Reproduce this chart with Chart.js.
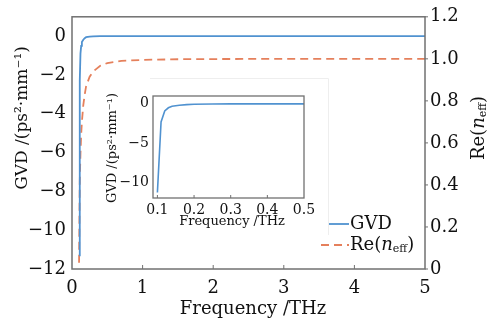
<!DOCTYPE html>
<html>
<head>
<meta charset="utf-8">
<script src="https://cdn.jsdelivr.net/npm/chart.js@4"></script>
<style>
  html, body { margin: 0; padding: 0; background: #fff; }
  #wrap { position: relative; width: 504px; height: 323px; }
  #mainChart { position: absolute; left: 0; top: 0; }
  #insetChart { position: absolute; left: 100px; top: 78px; }
</style>
</head>
<body>
<div id="wrap">
  <canvas id="mainChart" width="504" height="323"></canvas>
  <canvas id="insetChart" width="235" height="157"></canvas>
</div>
<script>
// data
const frequency = [0.1, 0.11, 0.12, 0.13, 0.14, 0.16, 0.18, 0.2, 0.25, 0.3, 0.4, 0.5, 0.7, 1, 1.5, 2, 3, 4, 5];
const gvdValues = [-11.3, -2.3, -0.9, -0.5, -0.3, -0.18, -0.1, -0.05, -0.02, -0.01, 0, 0, 0, 0, 0, 0, 0, 0, 0];
const neffValues = [0.03, 0.42, 0.55, 0.64, 0.7, 0.78, 0.83, 0.87, 0.915, 0.94, 0.967, 0.98, 0.99, 0.995, 0.998, 0.999, 1, 1, 1];

const xTicks = [0, 1, 2, 3, 4, 5];
const gvdTicks = [-12, -10, -8, -6, -4, -2, 0];
const gvdTickLabels = ["\u221212", "\u221210", "\u22128", "\u22126", "\u22124", "\u22122", "0"];
const neffTicks = [0, 0.2, 0.4, 0.6, 0.8, 1.0, 1.2];
const neffTickLabels = ["0", "0.2", "0.4", "0.6", "0.8", "1.0", "1.2"];

const insetXTicks = [0.1, 0.2, 0.3, 0.4, 0.5];
const insetYTicks = [-10, -5, 0];
const insetYTickLabels = ["\u221210", "\u22125", "0"];

const BLUE = "#5092d0";
const RED = "#e5805c";
const FRAME = "#707070";
const TEXT = "#111";
const SERIF = "'DejaVu Serif', serif";

function toPoints(xs, ys) {
  return xs.map((x, i) => ({ x: x, y: ys[i] }));
}

function setTicks(values) {
  return (axis) => { axis.ticks = values.map((v) => ({ value: v })); };
}

// draw text made of pieces (normal, italic, subscript)
function richWidth(ctx, parts) {
  let w = 0;
  parts.forEach((p) => { ctx.font = p.font; w += ctx.measureText(p.text).width; });
  return w;
}
function drawRich(ctx, parts, x, y) {
  let cx = x;
  parts.forEach((p) => {
    ctx.font = p.font;
    ctx.fillText(p.text, cx, y + (p.dy || 0));
    cx += ctx.measureText(p.text).width;
  });
}
function neffParts(size) {
  return [
    { text: "Re(", font: size + "px " + SERIF },
    { text: "n", font: "italic " + size + "px " + SERIF },
    { text: "eff", font: Math.round(size * 0.6) + "px " + SERIF, dy: 4 },
    { text: ")", font: size + "px " + SERIF }
  ];
}

// frame, ticks, titles and legend of the main chart
const mainDecor = {
  id: "mainDecor",
  afterDraw(chart) {
    const ctx = chart.ctx;
    const a = chart.chartArea;
    const xs = chart.scales.x;
    const yr = chart.scales.y1;
    ctx.save();
    ctx.strokeStyle = FRAME;
    ctx.lineWidth = 1.5;
    ctx.strokeRect(a.left, a.top, a.right - a.left, a.bottom - a.top);
    ctx.lineWidth = 1;
    xTicks.slice(1, -1).forEach((v) => {
      const px = xs.getPixelForValue(v);
      ctx.beginPath(); ctx.moveTo(px, a.bottom); ctx.lineTo(px, a.bottom - 4); ctx.stroke();
    });
    neffTicks.forEach((v) => {
      const py = yr.getPixelForValue(v);
      ctx.beginPath(); ctx.moveTo(a.right, py); ctx.lineTo(a.right + 3, py); ctx.stroke();
    });

    ctx.fillStyle = TEXT;
    ctx.textBaseline = "middle";
    // x title
    ctx.font = "18px " + SERIF;
    ctx.textAlign = "center";
    ctx.fillText("Frequency /THz", 253, 309);
    // left title
    ctx.save();
    ctx.translate(23, 118);
    ctx.rotate(-Math.PI / 2);
    ctx.font = "17px " + SERIF;
    ctx.fillText("GVD /(ps\u00b2\u00b7mm\u207b\u00b9)", 0, 0);
    ctx.restore();
    // right title
    ctx.textAlign = "left";
    ctx.save();
    ctx.translate(479, 128);
    ctx.rotate(-Math.PI / 2);
    const rp = neffParts(18);
    drawRich(ctx, rp, -richWidth(ctx, rp) / 2, 0);
    ctx.restore();

    // legend
    ctx.lineWidth = 1.8;
    ctx.strokeStyle = BLUE;
    ctx.beginPath(); ctx.moveTo(321, 224); ctx.lineTo(349, 224); ctx.stroke();
    ctx.strokeStyle = RED;
    ctx.setLineDash([8, 5]);
    ctx.beginPath(); ctx.moveTo(321, 245); ctx.lineTo(349, 245); ctx.stroke();
    ctx.setLineDash([]);
    ctx.font = "18px " + SERIF;
    ctx.fillText("GVD", 350, 224);
    drawRich(ctx, neffParts(18), 350, 245);
    ctx.restore();
  }
};

new Chart(document.getElementById("mainChart"), {
  type: "scatter",
  data: {
    datasets: [
      {
        label: "GVD",
        data: toPoints(frequency, gvdValues),
        yAxisID: "y",
        showLine: true,
        borderColor: BLUE,
        borderWidth: 1.8,
        pointRadius: 0,
        tension: 0
      },
      {
        label: "Re(neff)",
        data: toPoints(frequency, neffValues),
        yAxisID: "y1",
        showLine: true,
        borderColor: RED,
        borderWidth: 1.8,
        borderDash: [8, 5],
        pointRadius: 0,
        tension: 0
      }
    ]
  },
  options: {
    responsive: false,
    animation: false,
    layout: { padding: { top: 16, left: 0, right: 0, bottom: 0 } },
    plugins: { legend: { display: false }, tooltip: { enabled: false } },
    scales: {
      x: {
        type: "linear",
        min: 0,
        max: 5,
        afterBuildTicks: setTicks(xTicks),
        afterFit: (s) => { s.height = 54; },
        grid: { display: false, drawTicks: false },
        border: { display: false },
        ticks: { color: TEXT, padding: 9, font: { family: SERIF, size: 18 }, maxRotation: 0 }
      },
      y: {
        type: "linear",
        position: "left",
        min: -12,
        max: 1,
        afterBuildTicks: setTicks(gvdTicks),
        afterFit: (s) => { s.width = 72; },
        grid: { display: false, drawTicks: false },
        border: { display: false },
        ticks: {
          color: TEXT,
          padding: 6,
          font: { family: SERIF, size: 18 },
          callback: (v) => gvdTickLabels[gvdTicks.indexOf(v)]
        }
      },
      y1: {
        type: "linear",
        position: "right",
        min: 0,
        max: 1.2,
        afterBuildTicks: setTicks(neffTicks),
        afterFit: (s) => { s.width = 79; },
        grid: { display: false, drawTicks: false },
        border: { display: false },
        ticks: {
          color: TEXT,
          padding: 5,
          font: { family: SERIF, size: 18 },
          callback: (v) => neffTickLabels[neffTicks.indexOf(v)]
        }
      }
    }
  },
  plugins: [mainDecor]
});

// inset: white panel, frame and titles
const insetDecor = {
  id: "insetDecor",
  beforeDraw(chart) {
    const ctx = chart.ctx;
    ctx.save();
    ctx.fillStyle = "#fff";
    ctx.fillRect(50, 0, 178, 157);
    ctx.strokeStyle = "#eeeeee";
    ctx.lineWidth = 1;
    ctx.beginPath(); ctx.moveTo(50, 0.5); ctx.lineTo(228.5, 0.5); ctx.lineTo(228.5, 157); ctx.stroke();
    ctx.restore();
  },
  afterDraw(chart) {
    const ctx = chart.ctx;
    const a = chart.chartArea;
    const xs = chart.scales.x;
    ctx.save();
    ctx.strokeStyle = FRAME;
    ctx.lineWidth = 1.3;
    ctx.strokeRect(a.left, a.top, a.right - a.left, a.bottom - a.top);
    ctx.lineWidth = 1;
    insetXTicks.slice(0, -1).forEach((v) => {
      const px = xs.getPixelForValue(v);
      ctx.beginPath(); ctx.moveTo(px, a.bottom); ctx.lineTo(px, a.bottom - 3); ctx.stroke();
    });
    ctx.fillStyle = TEXT;
    ctx.textAlign = "center";
    ctx.textBaseline = "middle";
    ctx.font = "13px " + SERIF;
    ctx.fillText("Frequency /THz", 132, 144);
    ctx.save();
    ctx.translate(13, 70);
    ctx.rotate(-Math.PI / 2);
    ctx.fillText("GVD /(ps\u00b2\u00b7mm\u207b\u00b9)", 0, 0);
    ctx.restore();
    ctx.restore();
  }
};

new Chart(document.getElementById("insetChart"), {
  type: "scatter",
  data: {
    datasets: [
      {
        label: "GVD",
        data: toPoints(frequency, gvdValues),
        showLine: true,
        borderColor: BLUE,
        borderWidth: 1.6,
        pointRadius: 0,
        tension: 0
      }
    ]
  },
  options: {
    responsive: false,
    animation: false,
    layout: { padding: { top: 18, right: 31, left: 0, bottom: 0 } },
    plugins: { legend: { display: false }, tooltip: { enabled: false } },
    scales: {
      x: {
        type: "linear",
        min: 0.088,
        max: 0.5,
        afterBuildTicks: setTicks(insetXTicks),
        afterFit: (s) => { s.height = 37; },
        grid: { display: false, drawTicks: false },
        border: { display: false },
        ticks: {
          color: TEXT,
          padding: 4,
          font: { family: SERIF, size: 14 },
          maxRotation: 0,
          callback: (v) => v.toFixed(1)
        }
      },
      y: {
        type: "linear",
        min: -12,
        max: 1,
        afterBuildTicks: setTicks(insetYTicks),
        afterFit: (s) => { s.width = 53; },
        grid: { display: false, drawTicks: false },
        border: { display: false },
        ticks: {
          color: TEXT,
          padding: 4,
          font: { family: SERIF, size: 14 },
          callback: (v) => insetYTickLabels[insetYTicks.indexOf(v)]
        }
      }
    }
  },
  plugins: [insetDecor]
});
</script>
</body>
</html>
